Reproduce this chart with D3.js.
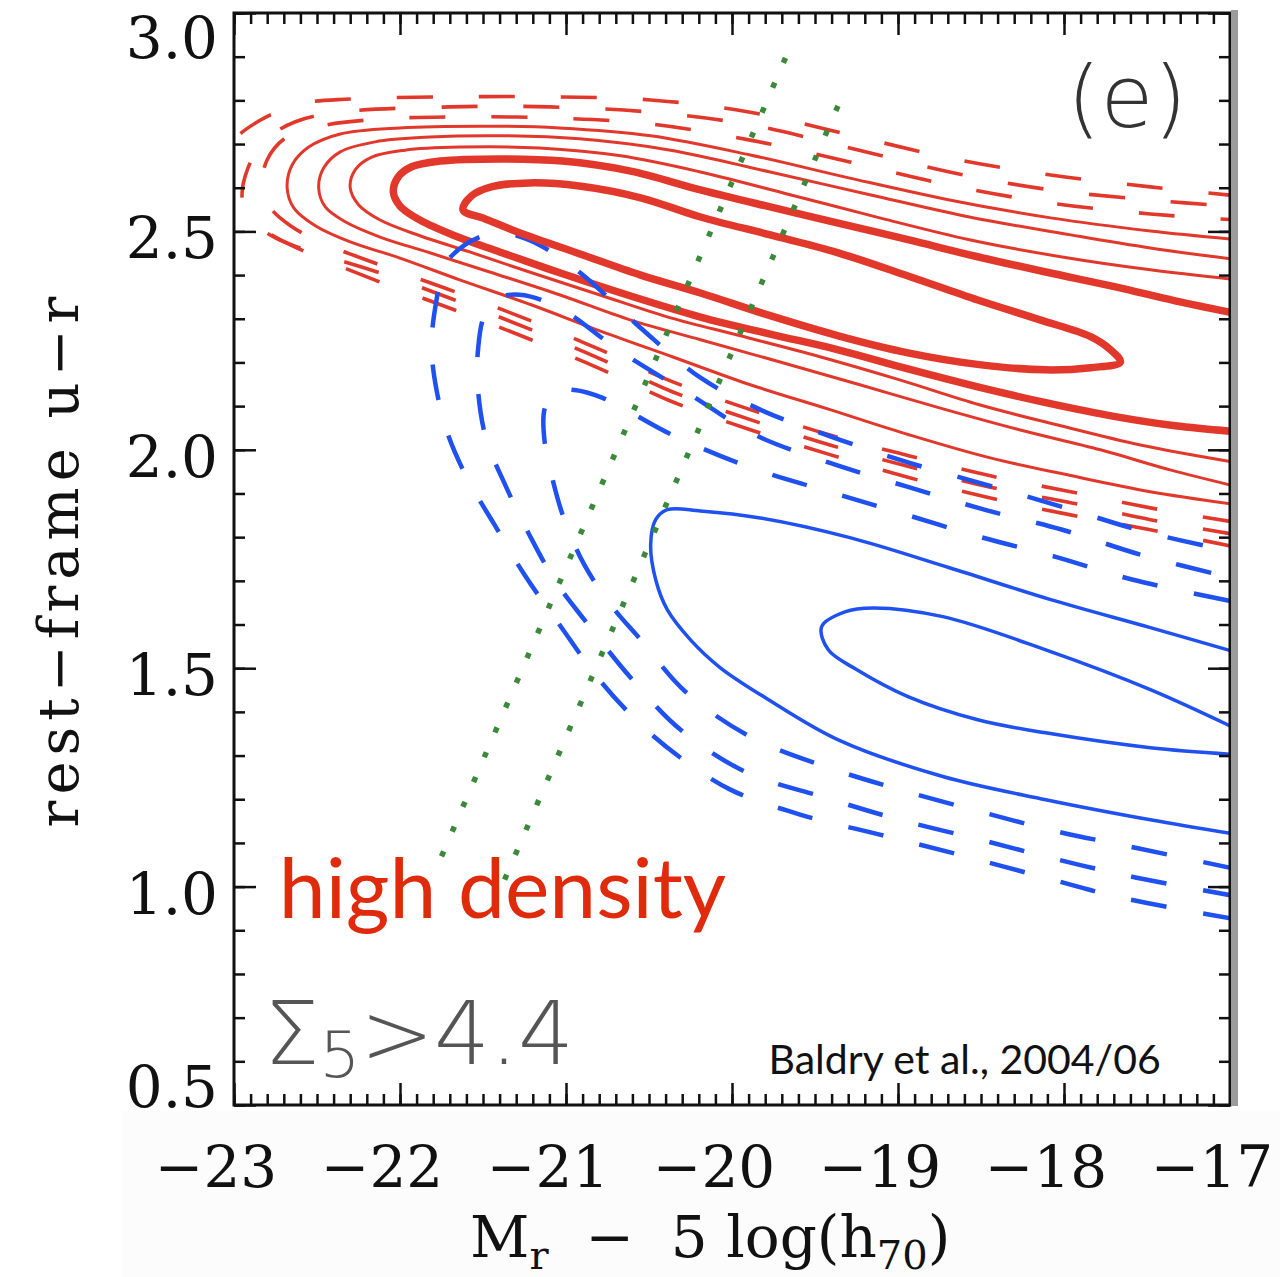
<!DOCTYPE html>
<html>
<head>
<meta charset="utf-8">
<script src="https://cdnjs.cloudflare.com/ajax/libs/d3/7.8.5/d3.min.js"></script>
<style>
body { margin: 0; background: #fff; }
svg { display: block; }
</style>
</head>
<body>
<div id="chart"></div>
<script>
// tick values and labels
var xMajor = [-23, -22, -21, -20, -19, -18, -17];
var xLabels = ["\u221223", "\u221222", "\u221221", "\u221220", "\u221219", "\u221218", "\u221217"];
var yMajor = [0.5, 1.0, 1.5, 2.0, 2.5, 3.0];
var yLabels = ["0.5", "1.0", "1.5", "2.0", "2.5", "3.0"];

// red contours: [M_r, u-r], outermost level first
var redDash1 = [[-16.95,2.581],[-17.48,2.602],[-18.08,2.629],[-18.69,2.668],[-19.29,2.721],[-19.89,2.773],[-20.49,2.801],[-21.10,2.808],[-21.70,2.808],[-22.30,2.803],[-22.60,2.792],[-22.84,2.755],[-23.01,2.703],[-23.06,2.629],[-23.01,2.554],[-22.87,2.515],[-22.66,2.469],[-22.12,2.384],[-21.67,2.320],[-21.21,2.252],[-20.78,2.183],[-20.36,2.110],[-19.89,2.046],[-19.41,1.989],[-18.93,1.936],[-18.45,1.890],[-17.96,1.851],[-17.48,1.817],[-16.95,1.776]];
var redDash2 = [[-16.95,2.556],[-17.48,2.572],[-18.08,2.595],[-18.69,2.636],[-19.29,2.691],[-19.89,2.744],[-20.49,2.773],[-21.10,2.785],[-21.70,2.785],[-22.36,2.773],[-22.63,2.751],[-22.81,2.709],[-22.92,2.641],[-22.95,2.572],[-22.89,2.522],[-22.75,2.485],[-22.60,2.462],[-22.12,2.405],[-21.67,2.343],[-21.21,2.275],[-20.78,2.206],[-20.36,2.133],[-19.89,2.069],[-19.41,2.011],[-18.93,1.961],[-18.45,1.915],[-17.96,1.879],[-17.48,1.840],[-16.95,1.805]];
var redDash3 = [[-16.95,2.526],[-17.48,2.540],[-18.08,2.565],[-18.69,2.606],[-19.29,2.659],[-19.89,2.709],[-20.49,2.746],[-21.10,2.760],[-21.70,2.762],[-22.12,2.757],[-22.48,2.741],[-22.69,2.714],[-22.80,2.664],[-22.83,2.606],[-22.78,2.554],[-22.66,2.513],[-22.48,2.476],[-22.12,2.423],[-21.67,2.362],[-21.21,2.295],[-20.78,2.227],[-20.36,2.156],[-19.89,2.092],[-19.41,2.034],[-18.93,1.986],[-18.45,1.941],[-17.96,1.904],[-17.48,1.867],[-16.95,1.833]];
var redSolid1 = [[-16.95,2.481],[-17.48,2.501],[-18.08,2.531],[-18.69,2.572],[-19.29,2.622],[-19.89,2.675],[-20.49,2.719],[-21.04,2.737],[-21.52,2.741],[-22.00,2.737],[-22.36,2.723],[-22.55,2.693],[-22.65,2.652],[-22.68,2.600],[-22.64,2.554],[-22.51,2.513],[-22.30,2.476],[-22.00,2.439],[-21.64,2.389],[-21.21,2.332],[-20.78,2.270],[-20.36,2.213],[-19.89,2.149],[-19.41,2.092],[-18.93,2.034],[-18.45,1.982],[-17.96,1.941],[-17.48,1.904],[-16.95,1.874]];
var redSolid2 = [[-16.95,2.435],[-17.48,2.462],[-17.96,2.492],[-18.57,2.533],[-19.17,2.584],[-19.77,2.636],[-20.37,2.686],[-20.92,2.712],[-21.40,2.719],[-21.82,2.716],[-22.15,2.705],[-22.36,2.682],[-22.46,2.645],[-22.49,2.600],[-22.45,2.556],[-22.33,2.522],[-22.12,2.487],[-21.82,2.451],[-21.46,2.407],[-21.04,2.355],[-20.61,2.297],[-20.19,2.252],[-19.71,2.201],[-19.23,2.149],[-18.75,2.096],[-18.27,2.046],[-17.78,2.000],[-17.36,1.954],[-16.95,1.915]];
var redSolid3 = [[-16.95,2.389],[-17.48,2.412],[-18.02,2.442],[-18.57,2.481],[-19.11,2.531],[-19.65,2.584],[-20.19,2.636],[-20.67,2.673],[-21.16,2.691],[-21.64,2.693],[-21.97,2.686],[-22.17,2.670],[-22.27,2.641],[-22.30,2.600],[-22.25,2.561],[-22.12,2.526],[-21.88,2.490],[-21.58,2.453],[-21.22,2.407],[-20.80,2.355],[-20.37,2.302],[-19.95,2.261],[-19.47,2.213],[-18.99,2.160],[-18.51,2.103],[-18.02,2.055],[-17.54,2.011],[-16.95,1.970]];
var redThick1 = [[-16.95,2.311],[-17.33,2.341],[-17.69,2.373],[-18.11,2.407],[-18.52,2.442],[-18.94,2.481],[-19.36,2.519],[-19.77,2.556],[-20.19,2.595],[-20.61,2.638],[-21.02,2.661],[-21.40,2.666],[-21.76,2.661],[-21.93,2.648],[-22.01,2.625],[-22.04,2.590],[-22.00,2.558],[-21.88,2.526],[-21.67,2.490],[-21.40,2.453],[-21.02,2.403],[-20.61,2.352],[-20.19,2.304],[-19.77,2.265],[-19.36,2.229],[-18.94,2.185],[-18.52,2.144],[-18.11,2.108],[-17.69,2.076],[-17.33,2.055],[-16.95,2.041]];
var redThick2 = [[-21.62,2.549],[-21.57,2.581],[-21.45,2.602],[-21.22,2.611],[-20.92,2.604],[-20.55,2.577],[-20.19,2.533],[-19.77,2.492],[-19.36,2.451],[-18.94,2.398],[-18.52,2.343],[-18.14,2.297],[-17.84,2.259],[-17.72,2.229],[-17.66,2.201],[-17.84,2.188],[-18.11,2.183],[-18.51,2.195],[-18.94,2.222],[-19.36,2.261],[-19.77,2.307],[-20.19,2.359],[-20.55,2.400],[-20.92,2.449],[-21.28,2.497],[-21.49,2.529]];

// blue contours
var blueSolid1 = [[-16.95,1.535],[-17.48,1.593],[-18.08,1.657],[-18.69,1.730],[-19.29,1.799],[-19.83,1.844],[-20.19,1.860],[-20.39,1.863],[-20.46,1.840],[-20.49,1.783],[-20.46,1.703],[-20.39,1.634],[-20.25,1.565],[-20.07,1.501],[-19.78,1.428],[-19.36,1.336],[-18.73,1.252],[-18.11,1.199],[-17.48,1.153],[-16.95,1.119]];
var blueSolid2 = [[-16.95,1.359],[-17.48,1.451],[-18.11,1.542],[-18.73,1.618],[-19.15,1.638],[-19.32,1.629],[-19.46,1.595],[-19.42,1.542],[-19.25,1.497],[-18.94,1.435],[-18.52,1.382],[-18.11,1.352],[-17.48,1.318],[-16.95,1.302]];
var blueDash1 = [[-16.95,1.764],[-17.51,1.812],[-17.99,1.867],[-18.45,1.918],[-18.93,1.970],[-19.35,2.023],[-19.83,2.092],[-20.19,2.165],[-20.55,2.279],[-20.92,2.407],[-21.16,2.469],[-21.34,2.494],[-21.46,2.494],[-21.61,2.469],[-21.73,2.423],[-21.78,2.343],[-21.81,2.240],[-21.78,2.137],[-21.71,2.034],[-21.59,1.931],[-21.43,1.828],[-21.25,1.714],[-21.04,1.600],[-20.80,1.474],[-20.55,1.371],[-20.31,1.295],[-20.01,1.222],[-19.59,1.165],[-19.11,1.119],[-18.63,1.073],[-18.14,1.023],[-17.66,0.975],[-16.95,0.924]];
var blueDash2 = [[-16.95,1.703],[-17.54,1.760],[-18.01,1.817],[-18.48,1.863],[-18.94,1.915],[-19.41,1.970],[-19.86,2.034],[-20.25,2.126],[-20.66,2.222],[-21.05,2.327],[-21.28,2.355],[-21.40,2.348],[-21.49,2.309],[-21.53,2.229],[-21.53,2.137],[-21.48,2.023],[-21.38,1.931],[-21.22,1.805],[-21.07,1.703],[-20.89,1.611],[-20.61,1.478],[-20.31,1.359],[-19.92,1.263],[-19.44,1.204],[-18.99,1.153],[-18.51,1.108],[-18.04,1.062],[-17.57,1.021],[-16.95,0.977]];
var blueDash3 = [[-16.95,1.650],[-17.59,1.703],[-18.05,1.755],[-18.51,1.801],[-18.99,1.856],[-19.45,1.908],[-19.90,1.961],[-20.36,2.034],[-20.78,2.119],[-20.95,2.137],[-21.07,2.133],[-21.13,2.092],[-21.13,2.023],[-21.08,1.931],[-21.01,1.840],[-20.89,1.737],[-20.73,1.645],[-20.55,1.565],[-20.28,1.446],[-19.89,1.343],[-19.44,1.275],[-18.99,1.222],[-18.51,1.172],[-18.04,1.126],[-17.57,1.089],[-16.95,1.039]];

// green dotted lines
var greenLine1 = [[-21.75,1.069],[-19.67,2.904]];
var greenLine2 = [[-21.37,1.016],[-19.32,2.824]];

var width = 1280, height = 1277;
var plotLeft = 234, plotRight = 1230, plotTop = 13, plotBottom = 1105;

var red = "#e1382b";
var blue = "#1f50f0";
var green = "#3a8a3a";
var serif = "'DejaVu Serif', serif";

var svg = d3.select("#chart")
    .append("svg")
    .attr("width", width)
    .attr("height", height);

var x = d3.scaleLinear().domain([-23, -17]).range([plotLeft, plotRight]);
var y = d3.scaleLinear().domain([0.5, 3.0]).range([plotBottom, plotTop]);

// faint band under the plot, as in the scanned figure
svg.append("rect")
    .attr("x", 122).attr("y", plotBottom + 6)
    .attr("width", width - 122).attr("height", height - plotBottom - 6)
    .attr("fill", "#fcfcfc");

svg.append("clipPath").attr("id", "plotclip")
    .append("rect")
    .attr("x", plotLeft).attr("y", plotTop)
    .attr("width", plotRight - plotLeft).attr("height", plotBottom - plotTop);

var line = d3.line()
    .x(function (d) { return x(d[0]); })
    .y(function (d) { return y(d[1]); })
    .curve(d3.curveCatmullRom.alpha(0.5));

var closedLine = d3.line()
    .x(function (d) { return x(d[0]); })
    .y(function (d) { return y(d[1]); })
    .curve(d3.curveCatmullRomClosed.alpha(0.5));

var plot = svg.append("g").attr("clip-path", "url(#plotclip)");

// dashed levels are drawn from the lower right end so the dashes line up
var contours = [
    { pts: redDash1, color: red, w: 3.6, dash: "36,46", rev: true },
    { pts: redDash2, color: red, w: 3.6, dash: "36,46", rev: true },
    { pts: redDash3, color: red, w: 3.6, dash: "36,46", rev: true },
    { pts: redSolid1, color: red, w: 3, dash: null },
    { pts: redSolid2, color: red, w: 3, dash: null },
    { pts: redSolid3, color: red, w: 3, dash: null },
    { pts: redThick1, color: red, w: 7.5, dash: null },
    { pts: blueDash1, color: blue, w: 4.5, dash: "36,37", rev: true },
    { pts: blueDash2, color: blue, w: 4.5, dash: "36,37", rev: true },
    { pts: blueDash3, color: blue, w: 4.5, dash: "36,37", rev: true },
    { pts: blueSolid1, color: blue, w: 3.5, dash: null },
    { pts: blueSolid2, color: blue, w: 3.5, dash: null }
];

plot.selectAll(".contour")
    .data(contours)
    .enter()
    .append("path")
    .attr("class", "contour")
    .attr("d", function (d) { return line(d.rev ? d.pts.slice().reverse() : d.pts); })
    .attr("fill", "none")
    .attr("stroke", function (d) { return d.color; })
    .attr("stroke-width", function (d) { return d.w; })
    .attr("stroke-dasharray", function (d) { return d.dash; })
    .attr("stroke-linejoin", "round");

plot.append("path")
    .attr("d", closedLine(redThick2))
    .attr("fill", "none")
    .attr("stroke", red)
    .attr("stroke-width", 7.5)
    .attr("stroke-linejoin", "round");

plot.selectAll(".dots")
    .data([greenLine1, greenLine2])
    .enter()
    .append("path")
    .attr("class", "dots")
    .attr("d", function (d) { return d3.line().x(function (p) { return x(p[0]); }).y(function (p) { return y(p[1]); })(d); })
    .attr("fill", "none")
    .attr("stroke", green)
    .attr("stroke-width", 5.5)
    .attr("stroke-dasharray", "5.5,21.5");

// ticks on all four sides, pointing inward
function tickStyle(g) {
    g.select(".domain").remove();
    g.selectAll("line").attr("stroke", "#111").attr("stroke-width", 2.5);
}
var xMinor = x.ticks(60), yMinor = y.ticks(25);

svg.append("g").attr("transform", "translate(0," + plotBottom + ")")
    .call(d3.axisBottom(x).tickValues(xMinor).tickSize(-11).tickFormat("")).call(tickStyle);
svg.append("g").attr("transform", "translate(0," + plotBottom + ")")
    .call(d3.axisBottom(x).tickValues(xMajor).tickSize(-22).tickFormat("")).call(tickStyle);
svg.append("g").attr("transform", "translate(0," + plotTop + ")")
    .call(d3.axisTop(x).tickValues(xMinor).tickSize(-11).tickFormat("")).call(tickStyle);
svg.append("g").attr("transform", "translate(0," + plotTop + ")")
    .call(d3.axisTop(x).tickValues(xMajor).tickSize(-22).tickFormat("")).call(tickStyle);
svg.append("g").attr("transform", "translate(" + plotLeft + ",0)")
    .call(d3.axisLeft(y).tickValues(yMinor).tickSize(-11).tickFormat("")).call(tickStyle);
svg.append("g").attr("transform", "translate(" + plotLeft + ",0)")
    .call(d3.axisLeft(y).tickValues(yMajor).tickSize(-22).tickFormat("")).call(tickStyle);
svg.append("g").attr("transform", "translate(" + plotRight + ",0)")
    .call(d3.axisRight(y).tickValues(yMinor).tickSize(-11).tickFormat("")).call(tickStyle);
svg.append("g").attr("transform", "translate(" + plotRight + ",0)")
    .call(d3.axisRight(y).tickValues(yMajor).tickSize(-22).tickFormat("")).call(tickStyle);

// frame
svg.append("rect")
    .attr("x", plotLeft).attr("y", plotTop)
    .attr("width", plotRight - plotLeft).attr("height", plotBottom - plotTop)
    .attr("fill", "none")
    .attr("stroke", "#111")
    .attr("stroke-width", 3);

// grey edge of the pasted figure
svg.append("rect")
    .attr("x", plotRight + 1).attr("y", plotTop - 3)
    .attr("width", 7).attr("height", plotBottom - plotTop + 4)
    .attr("fill", "#9c9c9c");

// tick labels
svg.selectAll(".xlab")
    .data(xMajor)
    .enter()
    .append("text")
    .attr("class", "xlab")
    .attr("x", function (d) { return x(d) - 18; })
    .attr("y", plotBottom + 82)
    .attr("text-anchor", "middle")
    .style("font-family", serif)
    .style("font-size", "58px")
    .attr("fill", "#111")
    .text(function (d, i) { return xLabels[i]; });

svg.selectAll(".ylab")
    .data(yMajor)
    .enter()
    .append("text")
    .attr("class", "ylab")
    .attr("x", plotLeft - 16)
    .attr("y", function (d) { return Math.max(plotTop + 45, Math.min(plotBottom + 2, y(d) + 27)); })
    .attr("text-anchor", "end")
    .style("font-family", serif)
    .style("font-size", "58px")
    .attr("fill", "#111")
    .text(function (d, i) { return yLabels[i]; });

// axis titles
var xt = svg.append("text")
    .attr("x", 470)
    .attr("y", plotBottom + 152)
    .style("font-family", serif)
    .style("font-size", "58px")
    .attr("fill", "#111");
xt.append("tspan").text("M");
xt.append("tspan").attr("dy", 12).style("font-size", "40px").text("r");
xt.append("tspan").attr("dy", -12).text("\u00a0\u00a0\u2212\u00a0\u00a05 log(h");
xt.append("tspan").attr("dy", 12).style("font-size", "40px").text("70");
xt.append("tspan").attr("dy", -12).text(")");

svg.append("text")
    .attr("transform", "translate(78," + ((plotTop + plotBottom) / 2) + ") rotate(-90)")
    .attr("text-anchor", "middle")
    .style("font-family", serif)
    .style("font-size", "56px")
    .style("letter-spacing", "6px")
    .attr("fill", "#111")
    .text("rest\u2212frame u\u2212r");

// annotations
svg.append("text")
    .attr("x", x(-17.62))
    .attr("y", y(2.74))
    .attr("text-anchor", "middle")
    .style("font-family", "'DejaVu Sans', sans-serif")
    .style("font-weight", 200)
    .style("font-size", "86px")
    .attr("fill", "#333")
    .text("(e)");

var sig = svg.append("text")
    .attr("x", x(-22.82))
    .attr("y", y(0.593))
    .style("font-family", "'DejaVu Sans', sans-serif")
    .style("font-weight", 200)
    .style("font-size", "88px")
    .attr("fill", "#555");
sig.append("tspan").text("\u03a3");
sig.append("tspan").attr("dy", 13).style("font-size", "64px").text("5");
sig.append("tspan").attr("dy", -13).text(">4.4");

svg.append("text")
    .attr("x", x(-22.73))
    .attr("y", y(0.929))
    .style("font-family", "Lato, sans-serif")
    .style("font-size", "84px")
    .attr("fill", "#e02a0c")
    .text("high density");

svg.append("text")
    .attr("x", x(-19.78))
    .attr("y", y(0.570))
    .style("font-family", "Lato, sans-serif")
    .style("font-size", "41px")
    .attr("fill", "#111")
    .text("Baldry et al., 2004/06");
</script>
</body>
</html>
